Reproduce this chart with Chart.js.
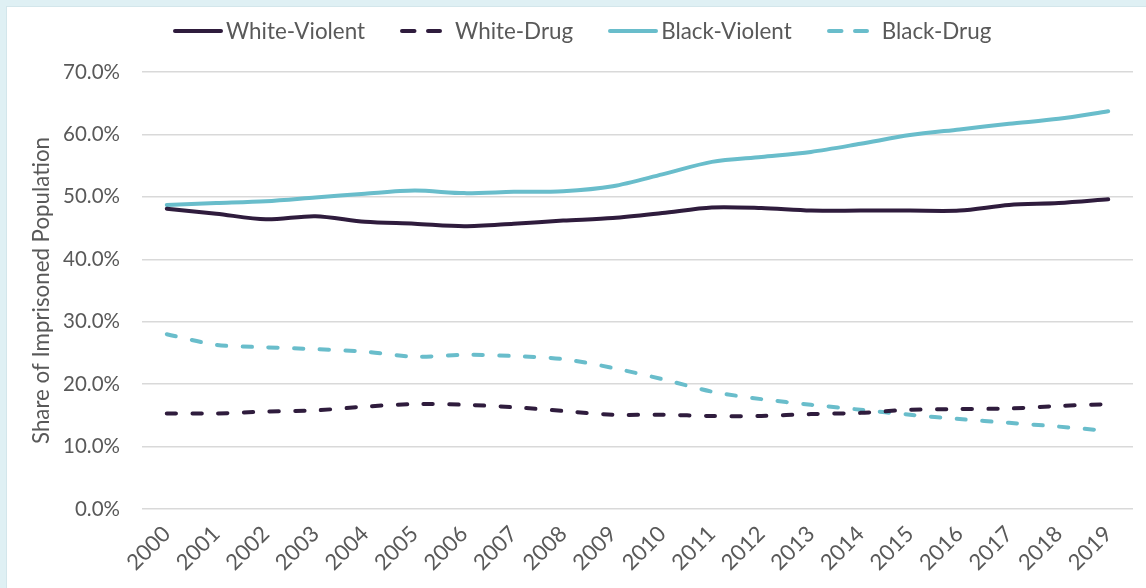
<!DOCTYPE html>
<html lang="en">
<head>
<meta charset="utf-8">
<title>Share of Imprisoned Population by Offense</title>
<script src="https://cdn.jsdelivr.net/npm/chart.js@4.4.1/dist/chart.umd.min.js"></script>
<style>
  html, body {
    margin: 0;
    padding: 0;
    width: 1146px;
    height: 588px;
    overflow: hidden;
    background: #dff0f4;
  }
  #frame {
    position: absolute;
    left: 6px;
    top: 6px;
    width: 1140px;
    height: 582px;
    background: #ffffff;
    border-left: 1px solid #d3e6eb;
    border-top: 1px solid #d3e6eb;
    box-sizing: border-box;
  }
  #chart-box {
    position: absolute;
    left: -1px;
    top: -1px;
    width: 1140px;
    height: 582px;
  }
  #legend {
    position: absolute;
    left: 166px;
    top: 10px;
    display: flex;
    align-items: center;
    font-family: Lato, sans-serif;
    font-size: 22.4px;
    line-height: 28px;
    color: #595959;
    white-space: nowrap;
  }
  .legend-item {
    display: flex;
    align-items: center;
    margin-right: 35px;
  }
  .legend-item svg {
    display: block;
    margin-right: 3px;
  }
</style>
</head>
<body>
<div id="frame">
  <div id="chart-box"><canvas id="my-chart"></canvas></div>
  <div id="legend"></div>
</div>
<script>
'use strict';

// ******DATA******
let years = ['2000', '2001', '2002', '2003', '2004', '2005', '2006', '2007', '2008', '2009',
  '2010', '2011', '2012', '2013', '2014', '2015', '2016', '2017', '2018', '2019'];

let whiteViolent = [48.1, 47.3, 46.4, 46.9, 46.0, 45.7, 45.3, 45.7, 46.2, 46.6,
  47.4, 48.3, 48.2, 47.8, 47.8, 47.8, 47.8, 48.7, 49.0, 49.6];

let whiteDrug = [15.3, 15.3, 15.6, 15.8, 16.4, 16.8, 16.7, 16.3, 15.7, 15.1,
  15.1, 14.9, 14.9, 15.2, 15.4, 15.9, 16.0, 16.1, 16.5, 16.8];

let blackViolent = [48.7, 49.0, 49.3, 49.9, 50.5, 51.0, 50.6, 50.8, 50.9, 51.7,
  53.6, 55.6, 56.4, 57.2, 58.5, 59.9, 60.8, 61.7, 62.5, 63.7];

let blackDrug = [28.0, 26.3, 25.9, 25.6, 25.2, 24.4, 24.7, 24.5, 24.0, 22.6,
  20.8, 18.8, 17.6, 16.7, 15.9, 15.1, 14.4, 13.8, 13.2, 12.5];

let seriesNames = ['White-Violent', 'White-Drug', 'Black-Violent', 'Black-Drug'];

let yTicks = [0, 10, 20, 30, 40, 50, 60, 70];

// ******STYLE******
let purple = '#2f1c3d';
let teal = '#69bdcb';
let textGray = '#595959';
let dash = [9.3, 16.4];

// ******CHART******
let canvasElem = document.getElementById('my-chart').getContext('2d');

function makeDataset(label, values, color, dashed) {
  return {
    label: label,
    data: values,
    borderColor: color,
    backgroundColor: color,
    borderWidth: 4,
    borderDash: dashed ? dash : [],
    borderCapStyle: 'round',
    borderJoinStyle: 'round',
    pointRadius: 0,
    tension: 0.3,
    fill: false
  };
}

let myChartObj = {
  type: 'line',
  data: {
    labels: years,
    datasets: [
      makeDataset(seriesNames[0], whiteViolent, purple, false),
      makeDataset(seriesNames[1], whiteDrug, purple, true),
      makeDataset(seriesNames[2], blackViolent, teal, false),
      makeDataset(seriesNames[3], blackDrug, teal, true)
    ]
  },
  options: {
    responsive: false,
    animation: false,
    layout: {
      padding: { top: 66, right: 13, bottom: 0, left: 0 }
    },
    plugins: {
      legend: { display: false },
      tooltip: { enabled: false }
    },
    scales: {
      x: {
        offset: true,
        grid: { display: false },
        border: { display: false },
        ticks: {
          color: textGray,
          font: { family: 'Lato', size: 22 },
          maxRotation: 45,
          minRotation: 45,
          autoSkip: false,
          padding: 4
        },
        afterFit: function (scale) {
          scale.height = 79;
        }
      },
      y: {
        min: yTicks[0],
        max: yTicks[yTicks.length - 1],
        afterBuildTicks: function (scale) {
          scale.ticks = yTicks.map(v => ({ value: v }));
        },
        grid: {
          color: '#d9d9d9',
          lineWidth: 1.5,
          drawTicks: false
        },
        border: { display: false },
        ticks: {
          color: textGray,
          font: { family: 'Lato', size: 20.5 },
          padding: 22,
          callback: function (value) {
            return value.toFixed(1) + '%';
          }
        },
        title: {
          display: true,
          text: 'Share of Imprisoned Population',
          color: textGray,
          font: { family: 'Lato', size: 22.3 },
          padding: { top: 22.5, bottom: 0 }
        },
        afterFit: function (scale) {
          scale.width = 136;
        }
      }
    }
  }
};

let canvas = document.getElementById('my-chart');
canvas.width = 1140;
canvas.height = 582;

let myChart = new Chart(canvasElem, myChartObj);

// ******LEGEND******
// small svg swatch per dataset, dashed ones get two short dashes
function renderLegend(chart) {
  let legendElem = document.getElementById('legend');
  chart.data.datasets.forEach(function (ds) {
    let item = document.createElement('div');
    item.className = 'legend-item';
    let isDashed = ds.borderDash.length > 0;
    let width = isDashed ? 42 : 50;
    let dashAttr = isDashed ? ' stroke-dasharray="12.5 13.5"' : '';
    item.innerHTML =
      '<svg width="' + width + '" height="8" viewBox="0 0 ' + width + ' 8">' +
      '<line x1="2" y1="4" x2="' + (width - 2) + '" y2="4" stroke="' + ds.borderColor +
      '" stroke-width="4" stroke-linecap="round"' + dashAttr + '/></svg>';
    if (isDashed) {
      item.querySelector('svg').style.marginRight = '13px';
    }
    let text = document.createElement('span');
    text.textContent = ds.label;
    item.appendChild(text);
    legendElem.appendChild(item);
  });
}

renderLegend(myChart);
</script>
</body>
</html>
